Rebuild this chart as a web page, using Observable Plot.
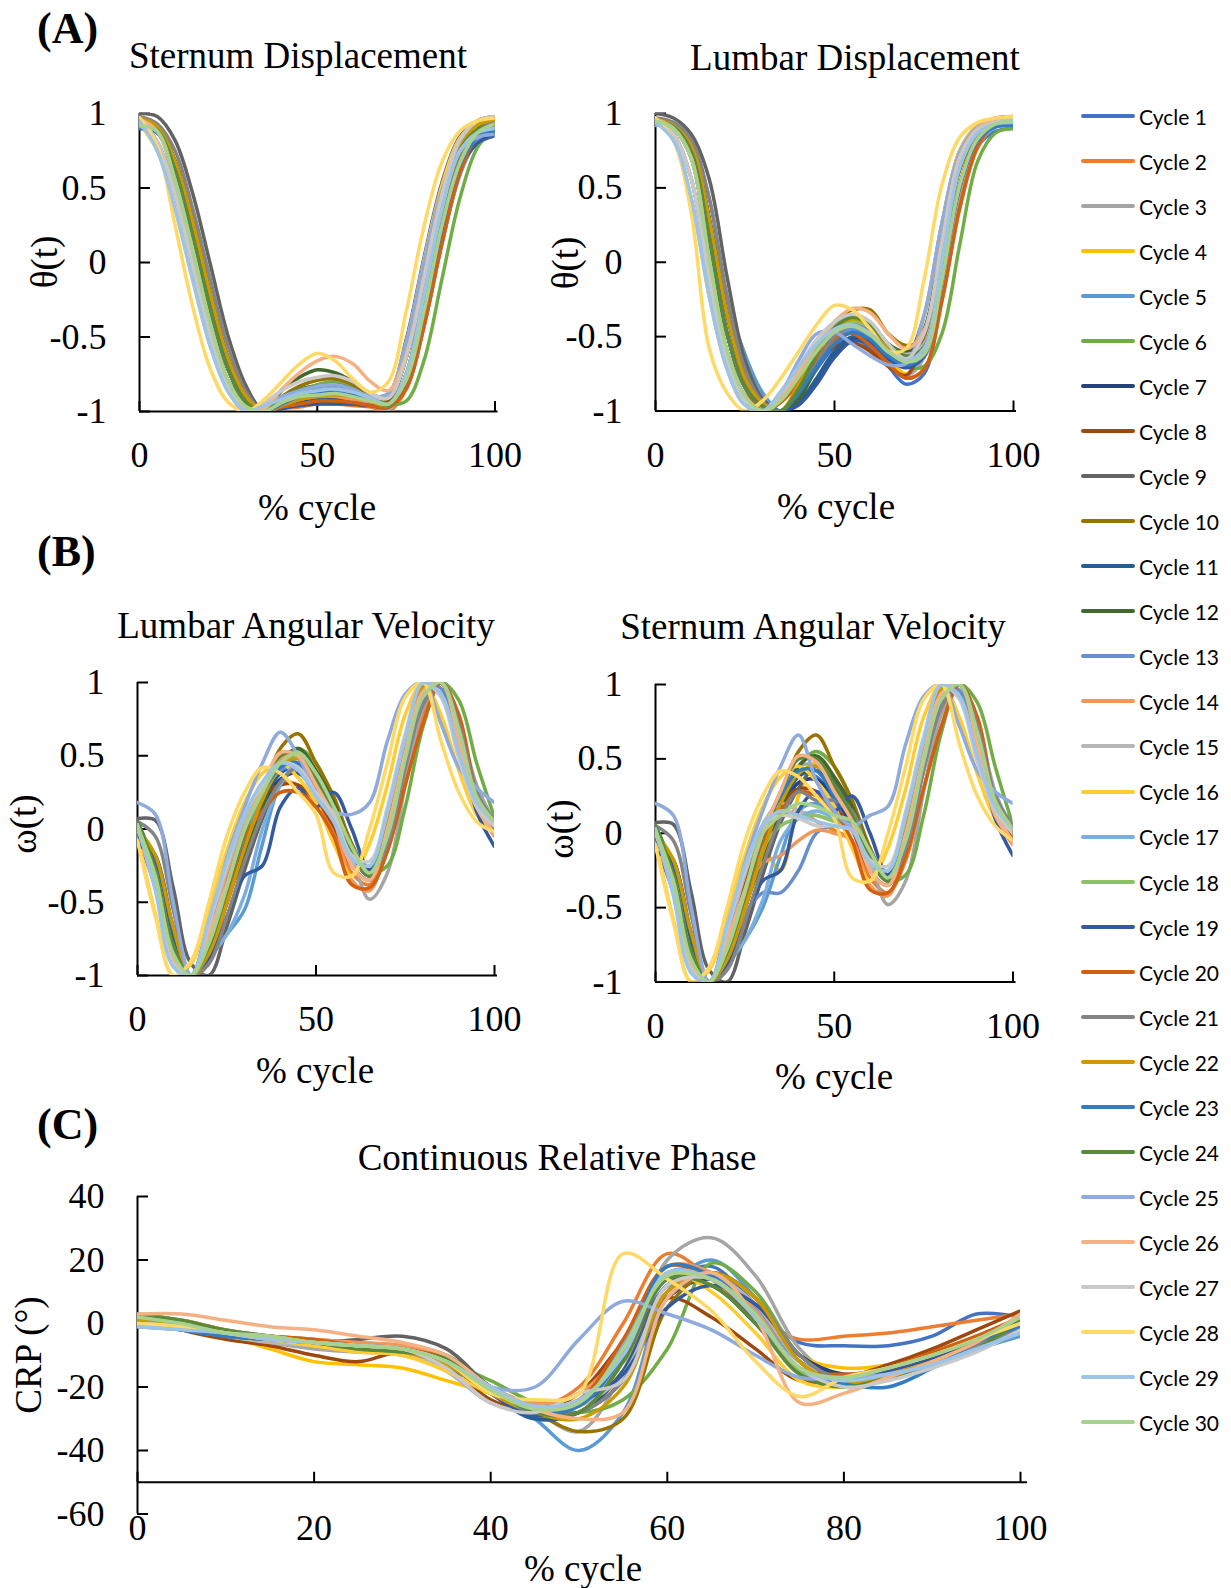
<!DOCTYPE html>
<html><head><meta charset="utf-8">
<script src="https://cdn.jsdelivr.net/npm/d3@7"></script>
<script src="https://cdn.jsdelivr.net/npm/@observablehq/plot@0.6"></script>
<style>
body{margin:0;background:#fff;}
#root{position:relative;width:1231px;height:1588px;overflow:hidden;background:#fff;font-family:"Liberation Serif","Times New Roman",serif;color:#000;}
.t{position:absolute;white-space:nowrap;transform:translate(-50%,-50%);font-size:37px;line-height:1;}
.rot{transform:translate(-50%,-50%) rotate(-90deg);}
.lab{position:absolute;white-space:nowrap;font-weight:bold;font-size:44px;line-height:1;transform:translate(0,-50%);}
.leg{position:absolute;white-space:nowrap;font-family:Lato,"Open Sans",sans-serif;font-size:21px;line-height:1;transform:translate(0,-50%);color:#000;}
svg{overflow:visible;}
</style></head><body><div id="root"></div>
<script>
const pct = [0,5,10,15,20,25,30,35,40,45,50,55,60,65,70,75,80,85,90,95,100];
const cycles = ["Cycle 1","Cycle 2","Cycle 3","Cycle 4","Cycle 5","Cycle 6","Cycle 7","Cycle 8","Cycle 9","Cycle 10","Cycle 11","Cycle 12","Cycle 13","Cycle 14","Cycle 15","Cycle 16","Cycle 17","Cycle 18","Cycle 19","Cycle 20","Cycle 21","Cycle 22","Cycle 23","Cycle 24","Cycle 25","Cycle 26","Cycle 27","Cycle 28","Cycle 29","Cycle 30"];
const colors = ["#4472C4","#ED7D31","#A5A5A5","#FFC000","#5B9BD5","#70AD47","#264478","#9E480E","#636363","#997300","#255E91","#43682B","#698ED0","#F1975A","#B7B7B7","#FFCD33","#7CAFDD","#8CC168","#335AA1","#D26012","#848484","#CC9A00","#327DC2","#5A8A39","#8FAADC","#F4B183","#C9C9C9","#FFD966","#9DC3E6","#A9D18E"];

const unitTicks = [1,0.5,0,-0.5,-1];
const pctTicks = [0,50,100];
const crpTicks = [40,20,0,-20,-40,-60];
const crpPctTicks = [0,20,40,60,80,100];

const sternumDisp = [
[0.90,0.87,0.62,0.17,-0.32,-0.72,-0.94,-1.00,-0.97,-0.95,-0.93,-0.93,-0.94,-0.95,-0.97,-0.80,-0.35,0.20,0.62,0.80,0.85],
[0.95,0.88,0.55,0.08,-0.42,-0.80,-0.97,-1.00,-0.98,-0.97,-0.95,-0.95,-0.96,-0.97,-1.00,-0.85,-0.43,0.12,0.59,0.84,0.92],
[0.96,0.89,0.62,0.17,-0.32,-0.72,-0.94,-1.00,-0.93,-0.89,-0.86,-0.85,-0.88,-0.93,-0.99,-0.76,-0.22,0.37,0.78,0.94,0.97],
[0.96,0.91,0.68,0.27,-0.22,-0.65,-0.90,-1.00,-0.96,-0.92,-0.89,-0.88,-0.90,-0.93,-0.92,-0.64,-0.11,0.43,0.80,0.93,0.95],
[0.92,0.88,0.62,0.17,-0.32,-0.72,-0.94,-1.00,-0.95,-0.90,-0.87,-0.86,-0.88,-0.92,-0.95,-0.79,-0.33,0.22,0.64,0.84,0.88],
[0.93,0.89,0.62,0.17,-0.32,-0.72,-0.94,-1.00,-0.92,-0.86,-0.82,-0.80,-0.84,-0.90,-0.95,-0.93,-0.66,-0.12,0.42,0.77,0.90],
[0.92,0.90,0.68,0.27,-0.22,-0.65,-0.90,-1.00,-0.98,-0.95,-0.93,-0.92,-0.93,-0.95,-0.97,-0.80,-0.34,0.22,0.63,0.81,0.86],
[0.95,0.88,0.55,0.08,-0.42,-0.80,-0.97,-1.00,-0.97,-0.96,-0.94,-0.94,-0.95,-0.96,-0.93,-0.64,-0.10,0.45,0.82,0.95,0.98],
[1.00,0.98,0.82,0.46,-0.02,-0.50,-0.83,-1.00,-0.95,-0.88,-0.84,-0.82,-0.85,-0.90,-0.88,-0.52,0.03,0.53,0.84,0.95,0.97],
[0.94,0.89,0.62,0.17,-0.32,-0.72,-0.94,-1.00,-0.90,-0.83,-0.79,-0.78,-0.82,-0.90,-0.95,-0.76,-0.24,0.32,0.70,0.84,0.87],
[0.91,0.89,0.68,0.27,-0.22,-0.65,-0.90,-1.00,-0.97,-0.93,-0.91,-0.90,-0.91,-0.93,-0.96,-0.80,-0.33,0.23,0.65,0.84,0.88],
[0.95,0.91,0.68,0.27,-0.22,-0.65,-0.90,-1.00,-0.86,-0.77,-0.72,-0.74,-0.80,-0.88,-0.91,-0.64,-0.12,0.42,0.78,0.91,0.93],
[0.93,0.88,0.55,0.08,-0.42,-0.80,-0.97,-1.00,-0.95,-0.91,-0.89,-0.88,-0.90,-0.93,-0.95,-0.84,-0.43,0.12,0.58,0.82,0.90],
[0.94,0.81,0.46,-0.02,-0.50,-0.83,-1.00,-0.98,-0.95,-0.92,-0.90,-0.90,-0.92,-0.94,-0.96,-0.84,-0.43,0.13,0.60,0.86,0.95],
[0.96,0.81,0.46,-0.02,-0.50,-0.83,-1.00,-0.96,-0.91,-0.87,-0.85,-0.84,-0.87,-0.92,-0.95,-0.75,-0.21,0.37,0.77,0.93,0.96],
[0.93,0.75,0.36,-0.12,-0.57,-0.87,-1.00,-0.96,-0.92,-0.88,-0.86,-0.86,-0.88,-0.92,-0.88,-0.54,0.01,0.51,0.83,0.94,0.96],
[0.92,0.88,0.62,0.17,-0.32,-0.72,-0.94,-1.00,-0.92,-0.87,-0.84,-0.83,-0.86,-0.91,-0.95,-0.84,-0.42,0.12,0.58,0.83,0.90],
[0.94,0.88,0.55,0.08,-0.42,-0.80,-0.97,-1.00,-0.94,-0.90,-0.88,-0.87,-0.89,-0.92,-0.95,-0.79,-0.33,0.24,0.67,0.88,0.94],
[0.91,0.89,0.68,0.27,-0.22,-0.65,-0.90,-1.00,-0.98,-0.96,-0.95,-0.95,-0.95,-0.96,-0.97,-0.80,-0.34,0.21,0.62,0.80,0.86],
[0.95,0.89,0.62,0.17,-0.32,-0.72,-0.94,-1.00,-0.97,-0.95,-0.93,-0.93,-0.94,-0.96,-0.97,-0.85,-0.43,0.12,0.59,0.85,0.93],
[0.98,0.93,0.75,0.36,-0.12,-0.57,-0.87,-1.00,-0.93,-0.88,-0.86,-0.85,-0.87,-0.91,-0.95,-0.79,-0.33,0.24,0.67,0.88,0.95],
[0.97,0.91,0.68,0.27,-0.22,-0.65,-0.90,-1.00,-0.96,-0.92,-0.90,-0.89,-0.90,-0.93,-0.96,-0.75,-0.22,0.36,0.76,0.92,0.96],
[0.90,0.87,0.62,0.17,-0.32,-0.72,-0.94,-1.00,-0.95,-0.90,-0.88,-0.87,-0.89,-0.92,-0.95,-0.79,-0.33,0.23,0.65,0.84,0.89],
[0.94,0.89,0.62,0.17,-0.32,-0.72,-0.94,-1.00,-0.91,-0.85,-0.83,-0.82,-0.85,-0.91,-0.96,-0.75,-0.22,0.35,0.75,0.89,0.92],
[0.92,0.81,0.46,-0.02,-0.50,-0.83,-1.00,-0.95,-0.90,-0.86,-0.83,-0.82,-0.85,-0.90,-0.88,-0.54,0.00,0.48,0.75,0.84,0.86],
[0.96,0.88,0.55,0.08,-0.42,-0.80,-0.97,-0.98,-0.85,-0.74,-0.66,-0.63,-0.68,-0.80,-0.86,-0.62,-0.10,0.45,0.82,0.95,0.97],
[0.97,0.81,0.46,-0.02,-0.50,-0.83,-1.00,-0.94,-0.86,-0.80,-0.77,-0.76,-0.80,-0.88,-0.91,-0.64,-0.11,0.44,0.82,0.95,0.98],
[0.97,0.78,0.25,-0.30,-0.72,-0.94,-1.00,-0.92,-0.80,-0.68,-0.61,-0.66,-0.78,-0.87,-0.80,-0.33,0.24,0.67,0.88,0.95,0.97],
[0.95,0.75,0.36,-0.12,-0.57,-0.87,-1.00,-0.96,-0.92,-0.88,-0.86,-0.85,-0.87,-0.91,-0.95,-0.75,-0.22,0.35,0.74,0.87,0.90],
[0.92,0.88,0.55,0.08,-0.42,-0.80,-0.97,-1.00,-0.94,-0.90,-0.89,-0.88,-0.90,-0.93,-0.95,-0.79,-0.33,0.24,0.66,0.87,0.93]
];

const lumbarDisp = [
[0.93,0.91,0.74,0.16,-0.48,-0.84,-0.97,-1.00,-0.90,-0.72,-0.57,-0.51,-0.58,-0.70,-0.82,-0.75,-0.20,0.45,0.78,0.88,0.90],
[0.96,0.90,0.70,0.02,-0.60,-0.90,-1.00,-0.93,-0.78,-0.62,-0.50,-0.47,-0.55,-0.68,-0.78,-0.72,-0.26,0.36,0.77,0.92,0.95],
[0.95,0.91,0.74,0.16,-0.48,-0.84,-1.00,-0.94,-0.81,-0.63,-0.48,-0.42,-0.50,-0.65,-0.76,-0.64,0.00,0.64,0.88,0.95,0.96],
[0.97,0.92,0.78,0.29,-0.35,-0.78,-0.95,-1.00,-0.84,-0.66,-0.50,-0.43,-0.50,-0.64,-0.75,-0.55,0.10,0.70,0.90,0.95,0.97],
[0.94,0.94,0.82,0.43,-0.23,-0.62,-0.88,-1.00,-0.88,-0.68,-0.52,-0.45,-0.52,-0.63,-0.70,-0.62,-0.12,0.50,0.82,0.91,0.92],
[0.93,0.91,0.74,0.16,-0.48,-0.84,-1.00,-0.93,-0.76,-0.55,-0.42,-0.37,-0.42,-0.55,-0.70,-0.70,-0.48,0.12,0.68,0.87,0.90],
[0.94,0.92,0.78,0.29,-0.35,-0.78,-0.95,-1.00,-0.95,-0.80,-0.62,-0.52,-0.54,-0.63,-0.68,-0.62,-0.12,0.52,0.83,0.92,0.93],
[0.95,0.90,0.70,0.02,-0.60,-0.90,-1.00,-0.94,-0.80,-0.66,-0.57,-0.54,-0.60,-0.70,-0.76,-0.50,0.13,0.70,0.89,0.94,0.94],
[1.00,0.97,0.86,0.56,-0.10,-0.66,-0.92,-1.00,-0.88,-0.70,-0.50,-0.40,-0.45,-0.57,-0.63,-0.36,0.26,0.75,0.92,0.97,0.98],
[0.93,0.91,0.74,0.16,-0.48,-0.84,-1.00,-0.93,-0.76,-0.55,-0.40,-0.32,-0.32,-0.48,-0.56,-0.50,0.02,0.62,0.86,0.92,0.92],
[0.95,0.92,0.78,0.29,-0.35,-0.78,-0.95,-1.00,-0.94,-0.78,-0.60,-0.50,-0.52,-0.62,-0.67,-0.62,-0.12,0.52,0.83,0.93,0.94],
[0.94,0.92,0.78,0.29,-0.35,-0.78,-0.95,-1.00,-0.92,-0.70,-0.48,-0.38,-0.42,-0.55,-0.60,-0.45,0.13,0.70,0.89,0.94,0.95],
[0.95,0.90,0.70,0.02,-0.60,-0.90,-1.00,-0.92,-0.77,-0.60,-0.48,-0.44,-0.50,-0.62,-0.69,-0.64,-0.24,0.39,0.79,0.93,0.96],
[0.95,0.86,0.56,-0.10,-0.66,-0.92,-1.00,-0.90,-0.74,-0.57,-0.45,-0.40,-0.47,-0.60,-0.67,-0.63,-0.24,0.40,0.80,0.94,0.97],
[0.96,0.86,0.56,-0.10,-0.66,-0.92,-1.00,-0.89,-0.72,-0.55,-0.43,-0.38,-0.44,-0.56,-0.62,-0.55,0.02,0.66,0.89,0.96,0.98],
[0.95,0.82,0.43,-0.23,-0.72,-0.96,-1.00,-0.87,-0.70,-0.55,-0.44,-0.40,-0.48,-0.62,-0.68,-0.36,0.26,0.75,0.92,0.96,0.98],
[0.92,0.91,0.74,0.16,-0.48,-0.84,-1.00,-0.93,-0.78,-0.60,-0.47,-0.42,-0.48,-0.60,-0.67,-0.63,-0.24,0.38,0.78,0.91,0.92],
[0.94,0.90,0.70,0.02,-0.60,-0.90,-1.00,-0.92,-0.76,-0.58,-0.45,-0.40,-0.46,-0.58,-0.65,-0.62,-0.12,0.52,0.83,0.92,0.93],
[0.93,0.92,0.78,0.29,-0.35,-0.78,-0.95,-1.00,-0.96,-0.82,-0.64,-0.53,-0.55,-0.65,-0.71,-0.63,-0.12,0.51,0.82,0.92,0.93],
[0.95,0.91,0.74,0.16,-0.48,-0.84,-1.00,-0.94,-0.81,-0.64,-0.52,-0.48,-0.56,-0.68,-0.78,-0.72,-0.26,0.37,0.78,0.93,0.96],
[0.97,0.94,0.82,0.43,-0.23,-0.72,-0.94,-1.00,-0.87,-0.68,-0.50,-0.42,-0.47,-0.60,-0.67,-0.62,-0.12,0.52,0.84,0.94,0.96],
[0.96,0.92,0.78,0.29,-0.35,-0.78,-0.95,-1.00,-0.82,-0.62,-0.45,-0.38,-0.43,-0.57,-0.66,-0.58,0.00,0.65,0.88,0.95,0.97],
[0.93,0.91,0.74,0.16,-0.48,-0.84,-0.97,-1.00,-0.88,-0.70,-0.55,-0.47,-0.52,-0.63,-0.69,-0.62,-0.12,0.51,0.82,0.91,0.92],
[0.95,0.91,0.74,0.16,-0.48,-0.84,-0.97,-1.00,-0.85,-0.62,-0.44,-0.37,-0.42,-0.55,-0.63,-0.57,0.00,0.65,0.88,0.94,0.95],
[0.93,0.86,0.56,-0.10,-0.66,-0.92,-1.00,-0.88,-0.66,-0.48,-0.47,-0.55,-0.63,-0.69,-0.68,-0.36,0.26,0.74,0.91,0.95,0.95],
[0.96,0.90,0.70,0.02,-0.60,-0.90,-1.00,-0.92,-0.74,-0.55,-0.40,-0.31,-0.34,-0.48,-0.58,-0.46,0.13,0.71,0.90,0.96,0.98],
[0.95,0.86,0.56,-0.10,-0.66,-0.92,-1.00,-0.88,-0.70,-0.52,-0.40,-0.35,-0.40,-0.55,-0.65,-0.48,0.13,0.70,0.89,0.94,0.96],
[0.97,0.82,0.33,-0.58,-0.88,-1.00,-0.93,-0.78,-0.60,-0.42,-0.29,-0.32,-0.45,-0.60,-0.58,-0.12,0.52,0.84,0.94,0.97,0.98],
[0.94,0.82,0.43,-0.23,-0.72,-0.96,-1.00,-0.87,-0.70,-0.55,-0.45,-0.42,-0.48,-0.60,-0.66,-0.58,0.00,0.64,0.87,0.93,0.94],
[0.95,0.90,0.70,0.02,-0.60,-0.90,-1.00,-0.93,-0.77,-0.60,-0.47,-0.43,-0.49,-0.60,-0.67,-0.62,-0.12,0.52,0.83,0.93,0.95]
];

const lumbarVel = [
[-0.05,-0.40,-0.92,-1.00,-0.62,-0.30,0.02,0.25,0.42,0.40,0.22,0.05,-0.18,-0.28,-0.02,0.49,0.88,1.00,0.62,0.20,-0.02],
[0.02,-0.30,-0.85,-1.00,-0.78,-0.40,-0.02,0.20,0.32,0.30,0.18,0.00,-0.30,-0.38,-0.15,0.35,0.78,1.00,0.72,0.25,0.02],
[0.00,-0.25,-0.75,-1.00,-0.82,-0.45,-0.08,0.20,0.45,0.48,0.30,0.10,-0.18,-0.48,-0.30,0.30,0.82,1.00,0.72,0.30,0.05],
[-0.02,-0.28,-0.77,-1.00,-0.80,-0.43,-0.05,0.22,0.42,0.50,0.35,0.12,-0.15,-0.30,0.00,0.55,0.97,1.00,0.60,0.18,0.00],
[0.00,-0.30,-0.82,-1.00,-0.88,-0.72,-0.55,-0.10,0.30,0.42,0.30,0.12,-0.15,-0.28,0.02,0.55,0.97,1.00,0.58,0.20,0.05],
[0.02,-0.25,-0.78,-1.00,-0.80,-0.42,-0.05,0.22,0.45,0.55,0.45,0.20,-0.10,-0.30,-0.25,0.15,0.70,1.00,0.88,0.45,0.08],
[-0.05,-0.18,-0.67,-1.00,-0.85,-0.51,-0.13,0.16,0.34,0.38,0.25,0.05,-0.20,-0.30,0.02,0.52,0.94,1.00,0.62,0.22,0.00],
[0.00,-0.35,-0.88,-1.00,-0.75,-0.35,0.02,0.22,0.30,0.30,0.20,0.02,-0.25,-0.35,-0.05,0.50,0.92,1.00,0.65,0.22,0.00],
[0.07,0.06,-0.40,-0.92,-1.00,-0.67,-0.28,0.07,0.30,0.45,0.35,0.12,-0.15,-0.32,-0.08,0.45,0.85,1.00,0.72,0.25,0.05],
[0.02,-0.30,-0.80,-1.00,-0.82,-0.45,-0.05,0.25,0.55,0.65,0.45,0.22,-0.10,-0.30,-0.05,0.50,0.94,1.00,0.62,0.20,0.02],
[-0.08,-0.20,-0.70,-1.00,-0.85,-0.50,-0.12,0.18,0.38,0.42,0.28,0.10,-0.18,-0.32,-0.02,0.48,0.88,1.00,0.68,0.22,0.00],
[0.05,-0.25,-0.77,-1.00,-0.80,-0.48,-0.18,0.15,0.45,0.55,0.40,0.18,-0.12,-0.28,0.02,0.55,0.98,1.00,0.60,0.20,0.05],
[0.00,-0.32,-0.85,-1.00,-0.78,-0.42,-0.05,0.22,0.40,0.42,0.25,0.05,-0.20,-0.30,0.05,0.58,1.00,0.96,0.56,0.18,0.02],
[-0.02,-0.40,-0.90,-1.00,-0.70,-0.30,0.05,0.30,0.48,0.52,0.32,0.08,-0.35,-0.42,-0.05,0.50,0.92,1.00,0.60,0.15,-0.05],
[0.05,-0.38,-0.92,-1.00,-0.68,-0.28,0.06,0.28,0.45,0.45,0.25,0.05,-0.22,-0.28,0.10,0.62,1.00,0.92,0.50,0.15,0.00],
[-0.05,-0.58,-1.00,-0.92,-0.55,-0.15,0.18,0.38,0.45,0.35,0.18,-0.10,-0.32,-0.10,0.30,0.78,1.00,0.78,0.40,0.10,-0.02],
[0.00,-0.28,-0.80,-1.00,-0.88,-0.72,-0.45,0.00,0.30,0.45,0.35,0.15,-0.15,-0.30,-0.08,0.42,0.85,1.00,0.72,0.25,0.05],
[0.03,-0.30,-0.82,-1.00,-0.78,-0.40,-0.02,0.25,0.45,0.50,0.32,0.12,-0.15,-0.30,0.02,0.52,0.94,1.00,0.62,0.20,0.02],
[-0.10,-0.22,-0.70,-1.00,-0.88,-0.60,-0.32,-0.25,0.15,0.28,0.15,0.25,0.00,-0.28,-0.05,0.48,0.88,1.00,0.64,0.12,-0.12],
[0.00,-0.30,-0.82,-1.00,-0.80,-0.45,-0.05,0.12,0.25,0.25,0.15,-0.05,-0.38,-0.40,-0.15,0.30,0.72,1.00,0.78,0.25,0.00],
[0.05,-0.05,-0.55,-1.00,-0.92,-0.60,-0.22,0.10,0.32,0.42,0.30,0.10,-0.15,-0.32,-0.10,0.42,0.85,1.00,0.72,0.25,0.05],
[0.00,-0.18,-0.67,-1.00,-0.85,-0.51,-0.13,0.20,0.42,0.48,0.35,0.15,-0.12,-0.30,0.02,0.55,0.97,1.00,0.60,0.20,0.02],
[-0.03,-0.32,-0.84,-1.00,-0.78,-0.40,0.00,0.25,0.42,0.45,0.28,0.10,-0.18,-0.30,0.00,0.52,0.94,1.00,0.60,0.20,0.02],
[0.05,-0.28,-0.80,-1.00,-0.80,-0.42,-0.02,0.28,0.50,0.52,0.35,0.12,-0.15,-0.32,0.00,0.52,0.94,1.00,0.62,0.22,0.05],
[0.18,0.10,-0.50,-1.00,-0.70,-0.20,0.15,0.45,0.66,0.50,0.25,0.12,0.10,0.18,0.60,0.92,1.00,0.72,0.42,0.28,0.18],
[0.00,-0.35,-0.88,-1.00,-0.72,-0.38,0.00,0.28,0.52,0.50,0.30,0.08,-0.25,-0.35,0.00,0.52,0.94,1.00,0.60,0.15,-0.03],
[0.02,-0.40,-0.92,-1.00,-0.65,-0.25,0.10,0.30,0.45,0.42,0.25,0.10,-0.18,-0.22,0.15,0.65,1.00,0.90,0.48,0.15,0.02],
[-0.08,-0.60,-1.00,-0.90,-0.50,-0.05,0.25,0.42,0.38,0.25,0.10,-0.30,-0.32,0.00,0.45,0.90,1.00,0.60,0.25,0.05,-0.02],
[0.03,-0.42,-0.94,-1.00,-0.62,-0.22,0.10,0.32,0.45,0.40,0.22,0.05,-0.20,-0.25,0.12,0.62,1.00,0.92,0.52,0.18,0.05],
[0.02,-0.32,-0.85,-1.00,-0.78,-0.40,0.00,0.25,0.45,0.52,0.38,0.15,-0.12,-0.30,-0.05,0.48,0.90,1.00,0.68,0.22,0.05]
];

const sternumVel = [
[-0.08,-0.40,-0.92,-1.00,-0.62,-0.30,0.02,0.25,0.40,0.38,0.22,0.05,-0.18,-0.28,-0.02,0.49,0.88,1.00,0.62,0.18,-0.05],
[0.02,-0.30,-0.85,-1.00,-0.78,-0.40,-0.05,0.10,0.15,0.08,0.02,-0.05,-0.30,-0.40,-0.18,0.30,0.72,1.00,0.78,0.25,0.00],
[0.00,-0.25,-0.75,-1.00,-0.82,-0.45,-0.08,0.20,0.45,0.45,0.28,0.10,-0.18,-0.48,-0.32,0.28,0.80,1.00,0.74,0.28,0.02],
[-0.02,-0.28,-0.77,-1.00,-0.80,-0.43,-0.12,-0.25,0.25,0.48,0.35,0.12,-0.15,-0.30,0.00,0.55,0.97,1.00,0.60,0.18,-0.02],
[0.00,-0.30,-0.82,-1.00,-0.88,-0.72,-0.50,-0.15,0.15,0.20,0.12,0.05,-0.15,-0.28,0.00,0.52,0.94,1.00,0.60,0.20,0.05],
[0.05,-0.25,-0.78,-1.00,-0.80,-0.42,-0.05,0.22,0.45,0.55,0.45,0.22,-0.10,-0.32,-0.28,0.12,0.68,1.00,0.88,0.45,0.05],
[-0.05,-0.18,-0.67,-1.00,-0.85,-0.51,-0.13,0.16,0.34,0.36,0.25,0.05,-0.20,-0.30,0.02,0.52,0.94,1.00,0.62,0.20,-0.02],
[0.00,-0.35,-0.88,-1.00,-0.75,-0.35,0.02,0.20,0.30,0.28,0.18,0.02,-0.25,-0.35,-0.05,0.50,0.92,1.00,0.65,0.20,-0.02],
[0.07,0.06,-0.40,-0.92,-1.00,-0.67,-0.28,0.07,0.30,0.45,0.35,0.12,-0.15,-0.32,-0.08,0.45,0.85,1.00,0.72,0.25,0.05],
[0.02,-0.30,-0.80,-1.00,-0.82,-0.45,-0.05,0.25,0.55,0.66,0.45,0.22,-0.10,-0.30,-0.05,0.50,0.94,1.00,0.62,0.20,0.00],
[-0.10,-0.20,-0.70,-1.00,-0.85,-0.50,-0.12,0.18,0.38,0.42,0.28,0.10,-0.18,-0.32,-0.02,0.48,0.88,1.00,0.68,0.22,-0.02],
[0.05,-0.25,-0.77,-1.00,-0.80,-0.48,-0.18,0.15,0.45,0.52,0.38,0.18,-0.12,-0.28,0.02,0.55,0.98,1.00,0.60,0.20,0.03],
[0.00,-0.32,-0.85,-1.00,-0.82,-0.55,-0.40,-0.40,-0.25,0.00,0.05,0.02,-0.20,-0.30,0.05,0.58,1.00,0.96,0.56,0.18,0.00],
[-0.02,-0.40,-0.90,-1.00,-0.72,-0.40,-0.20,-0.15,-0.05,0.02,0.00,-0.05,-0.35,-0.42,-0.05,0.50,0.92,1.00,0.60,0.12,-0.08],
[0.05,-0.38,-0.92,-1.00,-0.68,-0.28,0.06,0.20,0.15,0.12,0.08,0.02,-0.22,-0.28,0.10,0.62,1.00,0.92,0.50,0.15,0.00],
[-0.05,-0.58,-1.00,-0.92,-0.55,-0.15,0.18,0.38,0.45,0.35,0.18,-0.10,-0.32,-0.10,0.30,0.78,1.00,0.78,0.40,0.10,-0.02],
[0.00,-0.28,-0.80,-1.00,-0.88,-0.72,-0.45,-0.05,0.10,0.15,0.10,0.05,-0.15,-0.30,-0.08,0.42,0.85,1.00,0.72,0.25,0.05],
[0.03,-0.30,-0.82,-1.00,-0.78,-0.40,-0.10,0.05,0.10,0.12,0.08,0.05,-0.15,-0.30,0.02,0.52,0.94,1.00,0.62,0.20,0.02],
[-0.12,-0.22,-0.70,-1.00,-0.88,-0.60,-0.32,-0.25,0.15,0.28,0.15,0.25,0.00,-0.28,-0.05,0.48,0.88,1.00,0.64,0.10,-0.15],
[0.00,-0.30,-0.82,-1.00,-0.80,-0.45,-0.05,0.15,0.28,0.25,0.15,-0.05,-0.38,-0.40,-0.15,0.30,0.72,1.00,0.78,0.22,-0.02],
[0.05,-0.05,-0.55,-1.00,-0.92,-0.60,-0.22,0.10,0.28,0.22,0.22,0.15,-0.15,-0.32,-0.10,0.42,0.85,1.00,0.72,0.25,0.05],
[0.00,-0.18,-0.67,-1.00,-0.85,-0.51,-0.13,0.20,0.40,0.45,0.32,0.12,-0.12,-0.30,0.02,0.55,0.97,1.00,0.60,0.20,0.00],
[-0.03,-0.32,-0.84,-1.00,-0.78,-0.40,0.00,0.25,0.42,0.42,0.25,0.10,-0.18,-0.30,0.00,0.52,0.94,1.00,0.60,0.18,0.00],
[0.05,-0.28,-0.80,-1.00,-0.80,-0.42,-0.02,0.28,0.50,0.50,0.32,0.12,-0.15,-0.32,0.00,0.52,0.94,1.00,0.62,0.22,0.03],
[0.20,0.12,-0.50,-1.00,-0.70,-0.20,0.15,0.45,0.66,0.35,0.15,0.05,0.12,0.18,0.60,0.92,1.00,0.72,0.42,0.28,0.20],
[0.00,-0.35,-0.88,-1.00,-0.72,-0.38,0.00,0.28,0.52,0.48,0.28,0.08,-0.25,-0.35,0.00,0.52,0.94,1.00,0.60,0.12,-0.05],
[0.02,-0.40,-0.92,-1.00,-0.65,-0.25,0.05,0.12,0.10,0.05,0.05,0.02,-0.18,-0.22,0.15,0.65,1.00,0.90,0.48,0.15,0.00],
[-0.08,-0.60,-1.00,-0.90,-0.50,-0.05,0.25,0.42,0.38,0.25,0.10,-0.30,-0.32,0.00,0.45,0.90,1.00,0.60,0.25,0.05,-0.05],
[0.03,-0.42,-0.94,-1.00,-0.62,-0.22,0.05,0.15,0.12,0.08,0.05,0.02,-0.20,-0.25,0.12,0.62,1.00,0.92,0.52,0.18,0.03],
[0.02,-0.32,-0.85,-1.00,-0.78,-0.40,0.00,0.12,0.20,0.18,0.12,0.08,-0.12,-0.30,-0.05,0.48,0.90,1.00,0.68,0.22,0.03]
];

const crp = [
[2,0,-3,-4,-6,-7,-8,-12,-22,-30,-25,-10,12,18,5,-6,-7,-7,-4,3,2],
[1,-1,-3,-4,-5,-6,-7,-10,-20,-26,-20,0,22,14,2,-5,-4,-3,-1,1,3],
[0,-2,-4,-6,-8,-9,-10,-15,-25,-28,-34,-15,20,27,15,-8,-18,-17,-14,-8,-2],
[0,-2,-4,-8,-12,-13,-14,-18,-22,-26,-26,-15,10,16,8,-10,-14,-13,-10,-6,-2],
[1,-1,-3,-4,-6,-8,-9,-12,-20,-30,-40,-28,10,20,8,-12,-16,-15,-12,-8,-4],
[3,1,-2,-4,-5,-7,-8,-12,-18,-25,-28,-24,-8,19,10,-10,-18,-16,-12,-6,2],
[1,-1,-3,-4,-6,-7,-8,-12,-20,-28,-28,-18,8,14,6,-10,-16,-14,-10,-6,-1],
[3,-2,-5,-7,-10,-12,-9,-14,-24,-28,-22,-6,8,2,-8,-18,-17,-13,-8,-2,4],
[0,-2,-4,-5,-6,-5,-4,-8,-20,-27,-28,-15,12,14,0,-15,-20,-17,-12,-7,-1],
[2,0,-3,-5,-6,-7,-8,-12,-22,-28,-34,-30,5,16,8,-12,-20,-17,-12,-6,0],
[0,-2,-4,-5,-6,-7,-8,-13,-22,-30,-28,-15,10,16,6,-12,-18,-15,-11,-6,-1],
[2,0,-3,-5,-6,-7,-8,-10,-20,-28,-28,-12,14,12,0,-15,-20,-17,-13,-8,0],
[-1,-2,-3,-5,-6,-7,-8,-12,-20,-26,-22,-10,14,16,5,-12,-17,-15,-10,-5,-2],
[2,1,-2,-4,-5,-6,-7,-11,-20,-25,-22,-8,18,16,4,-14,-18,-15,-10,-5,1],
[0,-2,-4,-6,-7,-8,-9,-15,-25,-28,-26,-16,10,15,6,-12,-18,-16,-12,-7,-2],
[0,-1,-3,-5,-7,-9,-10,-15,-22,-26,-24,-8,16,10,-3,-18,-20,-16,-12,-6,-1],
[1,-1,-3,-4,-6,-7,-8,-12,-20,-27,-24,-6,16,15,2,-14,-18,-16,-12,-7,-2],
[2,0,-3,-5,-6,-7,-8,-12,-21,-27,-25,-8,15,14,2,-15,-17,-14,-10,-4,1],
[0,-2,-4,-5,-6,-7,-8,-13,-22,-29,-25,-16,5,12,6,-10,-18,-15,-11,-6,-1],
[1,-1,-3,-4,-5,-7,-8,-11,-20,-26,-24,-5,18,14,2,-14,-16,-14,-9,-4,2],
[0,-2,-4,-5,-6,-7,-8,-12,-22,-28,-28,-18,8,16,8,-10,-18,-16,-12,-7,-1],
[1,-1,-3,-5,-6,-8,-9,-13,-22,-28,-30,-20,10,16,8,-12,-19,-16,-12,-6,0],
[0,-2,-4,-5,-6,-7,-8,-12,-20,-28,-26,-10,18,15,3,-14,-19,-20,-14,-6,-1],
[3,1,-2,-4,-6,-8,-9,-11,-20,-28,-28,-12,14,12,0,-16,-20,-17,-13,-8,1],
[0,-1,-3,-5,-6,-7,-8,-12,-20,-20,-5,7,3,-2,-10,-17,-17,-16,-13,-8,-3],
[3,3,1,-1,-2,-4,-6,-10,-20,-27,-30,-28,8,16,2,-25,-22,-17,-12,-6,3],
[0,-1,-3,-4,-6,-7,-8,-14,-25,-28,-22,-18,12,14,2,-14,-20,-18,-14,-9,-2],
[0,-1,-3,-5,-6,-7,-8,-12,-22,-24,-22,22,14,4,-12,-23,-17,-14,-10,-5,0],
[-1,-2,-3,-5,-6,-7,-8,-12,-20,-26,-24,-10,16,14,2,-14,-18,-16,-13,-8,-3],
[2,0,-3,-4,-6,-7,-8,-12,-21,-27,-25,-8,15,14,3,-14,-17,-14,-10,-5,2]
];

const root = document.getElementById("root");

function addText(cls, txt, x, y) {
  const d = document.createElement("div");
  d.className = cls;
  d.textContent = txt;
  d.style.left = x + "px";
  d.style.top = y + "px";
  root.appendChild(d);
  return d;
}

function panel(cfg) {
  const {data, yDomain, yTicks, xTicks, box, axisAt, ext, xPad} = cfg;
  const ML = 140, MR = 20, MT = 12, MB = 70;
  const w = box.x1 - box.x0, h = box.y1 - box.y0;
  const rows = [];
  data.forEach((vals, i) => vals.forEach((v, j) => rows.push({x: pct[j], y: v, c: cycles[i]})));
  const frac = (yDomain[1] - axisAt) / (yDomain[1] - yDomain[0]);
  const plot = Plot.plot({
    width: w + ML + MR, height: h + MT + MB,
    marginLeft: ML, marginRight: MR, marginTop: MT, marginBottom: MB,
    x: {domain: [0, 100]},
    y: {domain: yDomain},
    color: {domain: cycles, range: colors},
    style: {fontFamily: '"Liberation Serif", "Times New Roman", serif', fontSize: "36px", background: "none", overflow: "visible", color: "#000"},
    marks: [
      Plot.ruleX([0], {stroke: "#000", strokeWidth: 2}),
      Plot.ruleY([axisAt], {stroke: "#000", strokeWidth: 2, insetRight: -ext}),
      Plot.tickY(yTicks, {y: d => d, stroke: "#000", strokeWidth: 2, insetRight: w - 11}),
      Plot.tickX(xTicks, {x: d => d, stroke: "#000", strokeWidth: 2, insetTop: frac * h - 10, insetBottom: (1 - frac) * h}),
      Plot.axisY({ticks: yTicks, tickSize: 0, tickPadding: 33, tickFormat: d => String(d), label: null, fontSize: 36}),
      Plot.axisX({ticks: xTicks, tickSize: 0, tickPadding: xPad, tickFormat: d => String(d), label: null, fontSize: 36}),
      Plot.line(rows, {x: "x", y: "y", z: "c", stroke: "c", strokeWidth: 3.5, curve: "catmull-rom", clip: true})
    ]
  });
  plot.style.position = "absolute";
  plot.style.left = (box.x0 - ML) + "px";
  plot.style.top = (box.y0 - MT) + "px";
  plot.style.maxWidth = "none";
  root.appendChild(plot);
}

// Panel A
addText("lab", "(A)", 37, 29);
addText("t", "Sternum Displacement", 298, 55);
addText("t", "Lumbar Displacement", 855, 57);
panel({data: sternumDisp, yDomain: [-1, 1], yTicks: unitTicks, xTicks: pctTicks, box: {x0: 138.5, x1: 494, y0: 112.5, y1: 410.5}, axisAt: -1, ext: 3, xPad: 30});
panel({data: lumbarDisp, yDomain: [-1, 1], yTicks: unitTicks, xTicks: pctTicks, box: {x0: 655, x1: 1013, y0: 113, y1: 410.5}, axisAt: -1, ext: 3, xPad: 30});
addText("t rot", "θ(t)", 44, 262);
addText("t rot", "θ(t)", 565, 263);
addText("t", "% cycle", 317, 507);
addText("t", "% cycle", 836, 506);

// Panel B
addText("lab", "(B)", 37, 552);
addText("t", "Lumbar Angular Velocity", 306, 625);
addText("t", "Sternum Angular Velocity", 813, 626);
panel({data: lumbarVel, yDomain: [-1, 1], yTicks: unitTicks, xTicks: pctTicks, box: {x0: 137, x1: 494, y0: 682, y1: 975}, axisAt: -1, ext: 3, xPad: 30});
panel({data: sternumVel, yDomain: [-1, 1], yTicks: unitTicks, xTicks: pctTicks, box: {x0: 654.5, x1: 1012, y0: 684, y1: 981.5}, axisAt: -1, ext: 3, xPad: 30});
addText("t rot", "ω(t)", 23, 824);
addText("t rot", "ω(t)", 560, 829);
addText("t", "% cycle", 315, 1070);
addText("t", "% cycle", 834, 1076);

// Panel C
addText("lab", "(C)", 37, 1125);
addText("t", "Continuous Relative Phase", 557, 1157);
panel({data: crp, yDomain: [-60, 40], yTicks: crpTicks, xTicks: crpPctTicks, box: {x0: 136.5, x1: 1019.5, y0: 1195.5, y1: 1513}, axisAt: -50, ext: 7, xPad: 0});
addText("t rot", "CRP (°)", 28, 1355);
addText("t", "% cycle", 583, 1568);

// Legend
cycles.forEach((c, i) => {
  const y = 116 + 45.03 * i;
  const sw = document.createElement("div");
  sw.style.cssText = `position:absolute;left:1081px;top:${(y - 2).toFixed(1)}px;width:54px;height:4px;border-radius:2px;background:${colors[i]};`;
  root.appendChild(sw);
  addText("leg", c, 1139, y);
});
</script></body></html>
